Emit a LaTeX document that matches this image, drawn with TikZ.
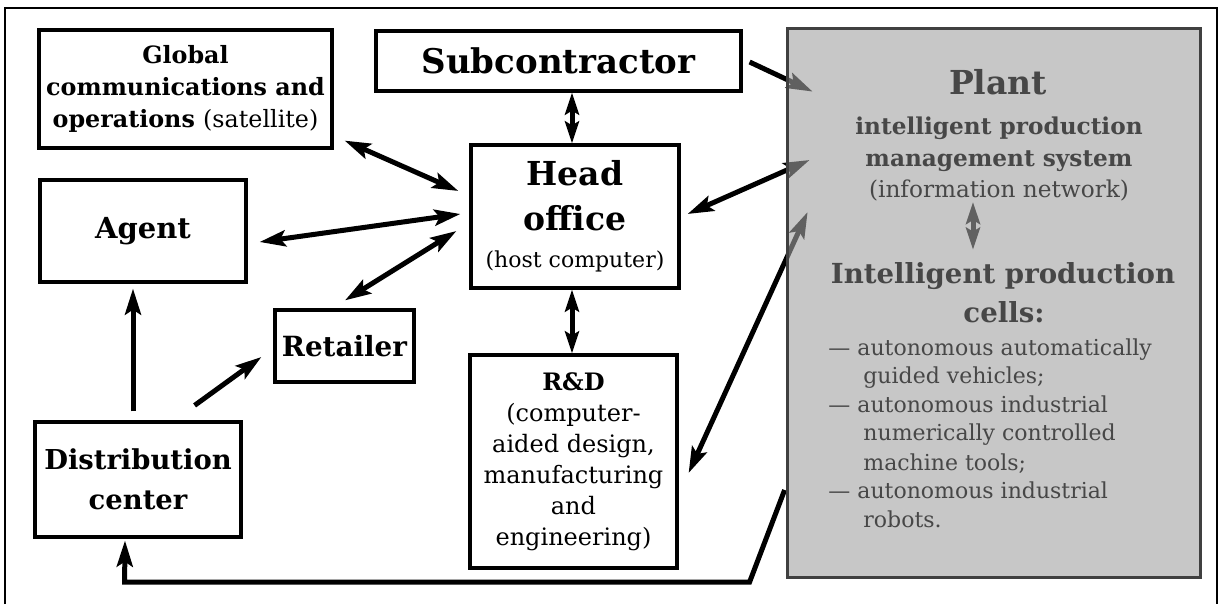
\documentclass[tikz,border=0pt]{standalone}
\usepackage{fontspec}
\setmainfont{DejaVu Serif}
\usetikzlibrary{arrows.meta,calc}
\begin{document}
\begin{tikzpicture}[x=0.5pt,y=-0.5pt,
  box/.style={draw, line width=1.6pt, inner sep=0pt, align=center, fill=white},
  tipbig/.tip={Stealth[length=13pt,width=8pt,inset=2.5pt]},
  tipsmall/.tip={Stealth[length=11pt,width=7pt,inset=2pt]},
  arr/.style={line width=2.5pt, -tipbig},
  darr/.style={line width=2.5pt, tipbig-tipbig},
  sdarr/.style={line width=2.5pt, tipsmall-tipsmall},
  ptext/.style={text=black!72, inner sep=0pt, anchor=base},
  plantfill/.style={fill=black!37, fill opacity=0.6, draw=black!75, line width=1.3pt}]
\useasboundingbox (0,0) rectangle (1224,604);
% outer frame
\draw[line width=1pt] (5,604) -- (5,8) -- (1217,8) -- (1217,604);
% boxes
\node[box, minimum width=146.5pt, minimum height=59pt, font=\fontsize{11.9}{16}\selectfont\bfseries] (glob) at (185.5,89) {Global\\communications and\\operations {\mdseries(satellite)}};
\node[box, minimum width=182.5pt, minimum height=30pt, font=\fontsize{17}{20}\selectfont\bfseries] (sub) at (558.5,61) {Subcontractor};
\node[box, minimum width=103pt, minimum height=51pt, font=\fontsize{14.5}{17}\selectfont\bfseries] (agent) at (143,231) {Agent};
\node[box, minimum width=104pt, minimum height=71.5pt, font=\fontsize{16.5}{22.5}\selectfont\bfseries] (head) at (575,216.5) {Head\\office\\[-4pt]{\mdseries\fontsize{11}{13}\selectfont(host computer)}};
\node[box, minimum width=69.5pt, minimum height=36pt, font=\fontsize{13.9}{17}\selectfont\bfseries] (ret) at (344.5,346) {Retailer};
\node[box, minimum width=103pt, minimum height=57.5pt, font=\fontsize{13.7}{20}\selectfont\bfseries] (dist) at (138,479.5) {Distribution\\center};
\node[box, minimum width=103.5pt, minimum height=106.5pt, font=\fontsize{12}{15.5}\selectfont] (rd) at (573.5,461.5) {\textbf{R\&D}\\(computer-\\aided design,\\manufacturing\\and\\engineering)};
% plant placeholder (drawn later)
\node[minimum width=206pt, minimum height=274pt, inner sep=0pt] (plant) at (994,303) {};
% connectors
\draw[darr] ([shift={(11,-9)}]glob.south east) -- ([shift={(-11,-25.5)}]head.west);
\draw[darr] ([shift={(12,11)}]agent.east) -- ([shift={(-9,-2.5)}]head.west);
\draw[darr] ([shift={(0.5,-8)}]ret.north) -- ([shift={(-13,14.5)}]head.west);
\draw[sdarr] ([shift={(-3,0)}]head.north) -- ([shift={(13.5,0)}]sub.south);
\draw[sdarr] ([shift={(-3,0)}]head.south) -- ([shift={(-1.5,0)}]rd.north);
\draw[arr] ([shift={(7,1)}]sub.east) -- ([shift={(25,63)}]plant.north west);
\draw[darr] ([shift={(22,-143)}]plant.west) -- ([shift={(7,-2.5)}]head.east);
\draw[darr] ([shift={(20,-91)}]plant.west) -- ([shift={(10,11.5)}]rd.east);
\draw[arr] ([shift={(-5,-9)}]dist.north) -- ([shift={(-10,5)}]agent.south);
\draw[arr] ([shift={(-48,-15)}]dist.north east) -- ([shift={(-12,11)}]ret.west);
\draw[arr, line join=miter] ([shift={(-3,187)}]plant.west) -- ++(-35,92) -- ++(-625,0) -- ([shift={(-13,2)}]dist.south);
% plant box
\draw[plantfill] (plant.north west) rectangle (plant.south east);
% plant texts
\node[ptext, font=\fontsize{16.5}{20}\selectfont\bfseries] (pt) at (998,95) {Plant};
\node[ptext, font=\fontsize{11.6}{14}\selectfont\bfseries] (l1) at (999,135) {intelligent production};
\node[ptext, font=\fontsize{11.6}{14}\selectfont\bfseries] (l2) at (999,167) {management system};
\node[ptext, font=\fontsize{11.6}{14}\selectfont] (l3) at (999,198) {(information network)};
\node[ptext, font=\fontsize{13.8}{17}\selectfont\bfseries] (l4) at (1003,283) {Intelligent production};
\node[ptext, font=\fontsize{13.8}{17}\selectfont\bfseries] (l5) at (1004,322) {cells:};
\draw[sdarr, color=black!62] ([shift={(-26,0)}]l3.south) -- ([shift={(-30,-12)}]l4.north);
\node[ptext, anchor=base west, font=\fontsize{11}{14}\selectfont] (i1) at (828,355) {— autonomous automatically};
\node[ptext, anchor=base west, font=\fontsize{11}{14}\selectfont] (i1b) at (863,383) {guided vehicles;};
\node[ptext, anchor=base west, font=\fontsize{11}{14}\selectfont] (i2) at (828,412) {— autonomous industrial};
\node[ptext, anchor=base west, font=\fontsize{11}{14}\selectfont] (i2b) at (863,440) {numerically controlled};
\node[ptext, anchor=base west, font=\fontsize{11}{14}\selectfont] (i2c) at (863,470) {machine tools;};
\node[ptext, anchor=base west, font=\fontsize{11}{14}\selectfont] (i3) at (828,498) {— autonomous industrial};
\node[ptext, anchor=base west, font=\fontsize{11}{14}\selectfont] (i3b) at (863,527) {robots.};
\end{tikzpicture}
\end{document}
